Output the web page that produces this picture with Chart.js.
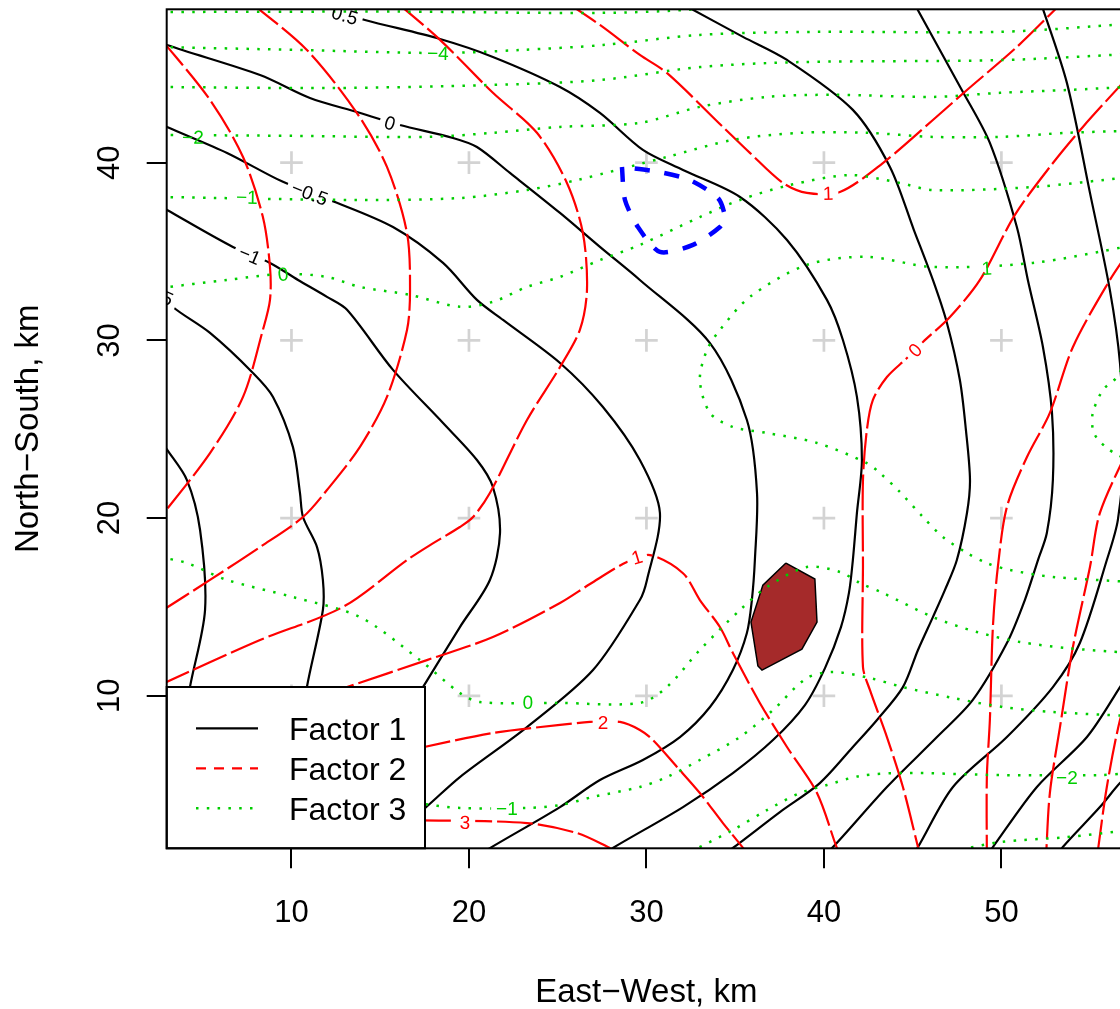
<!DOCTYPE html>
<html>
<head>
<meta charset="utf-8">
<style>
  html, body { margin: 0; padding: 0; overflow: hidden; background: #fff; }
  #wrap { position: relative; width: 1126px; height: 1009px; }
</style>
<script src="https://cdn.jsdelivr.net/npm/chart.js@4.4.1/dist/chart.umd.min.js"></script>
</head>
<body>
<div id="wrap"><canvas id="contours"></canvas></div>
<script>
// axis ranges, km
const xRange = [2.97, 57.02];
const yRange = [1.42, 48.63];
const xTicks = [10, 20, 30, 40, 50];
const yTicks = [10, 20, 30, 40];
const xTitle = 'East\u2212West, km';
const yTitle = 'North\u2212South, km';

// Factor 1 contours (solid black), [east-west, north-south]
const f1_m2 = [[2.59,24.40],[2.99,23.85],[4.11,22.14],[4.85,19.33],[5.13,14.82],[4.28,10.49],[4.00,8.60]];
const f1_m15 = [[1.46,33.12],[2.99,32.45],[3.32,31.88],[5.41,30.42],[7.83,28.17],[8.96,26.82],[10.08,24.01],[10.48,21.41],[10.65,20.06],[11.44,18.37],[11.77,16.52],[11.77,14.83],[10.87,10.50],[10.65,8.64]];
const f1_m1 = [[2.20,37.80],[2.99,37.34],[6.70,35.26],[8.79,34.36],[10.37,33.40],[12.00,32.45],[13.13,31.72],[15.72,28.34],[18.54,25.35],[20.45,23.27],[21.35,21.75],[21.75,19.16],[21.18,16.52],[19.49,13.87],[17.41,10.49],[16.96,9.76]];
const f1_m05 = [[2.20,42.40],[2.99,42.01],[6.37,40.55],[9.52,38.92],[12.17,37.90],[15.72,36.38],[18.54,34.36],[20.45,32.28],[21.92,31.15],[25.13,28.73],[27.55,26.25],[29.63,23.27],[30.76,20.29],[30.03,16.52],[29.63,15.39],[26.99,11.45],[23.27,8.24],[19.49,5.43],[17.52,3.68],[16.96,3.29]];
const f1_0 = [[2.20,47.00],[2.99,46.62],[8.23,44.93],[11.04,43.64],[13.69,42.85],[16.11,42.12],[19.10,41.39],[20.45,40.88],[22.31,39.42],[25.13,37.17],[27.38,35.26],[29.63,33.40],[33.58,29.85],[35.66,25.52],[36.23,21.41],[36.11,17.64],[35.94,15.39],[35.66,13.53],[34.87,11.45],[33.58,9.37],[31.89,7.68],[29.80,6.39],[27.38,5.26],[25.13,3.74],[21.18,1.43],[20.34,0.87]];
const f1_05 = [[11.49,48.82],[14.14,48.03],[18.37,46.96],[21.35,45.95],[25.13,44.26],[27.38,42.80],[29.80,40.72],[32.06,39.59],[35.27,38.07],[37.92,35.65],[40.17,32.28],[41.07,30.02],[41.86,26.82],[42.14,23.27],[41.86,20.29],[41.63,17.64],[41.41,15.79],[40.96,13.87],[40.06,11.56],[38.93,9.48],[37.13,7.51],[34.87,5.65],[32.06,3.74],[28.11,1.44],[27.27,0.87]];
const f1_1 = [[32.11,48.88],[35.44,47.08],[37.92,45.78],[41.63,42.97],[43.72,39.76],[45.07,36.21],[46.14,33.40],[46.93,30.98],[47.66,27.77],[48.00,24.96],[48.23,22.14],[48.06,20.29],[47.49,17.64],[46.82,15.96],[46.14,14.43],[45.30,12.58],[44.45,10.49],[42.99,8.64],[41.63,7.12],[39.77,5.09],[37.52,3.46],[34.87,1.44],[34.03,0.87]];
const f1_15 = [[45.07,48.99],[47.77,44.09],[49.35,41.11],[50.87,36.38],[51.49,33.40],[52.34,29.63],[52.85,25.92],[52.90,22.14],[52.56,19.16],[52.06,17.64],[51.32,15.39],[50.31,12.97],[48.39,9.77],[46.37,7.68],[43.55,4.87],[40.51,1.49],[39.77,0.87]];
const f1_2 = [[52.17,49.16],[53.69,44.49],[54.99,38.30],[56.11,32.84],[56.68,28.73],[56.90,23.83],[56.56,19.89],[55.94,17.64],[54.42,12.97],[52.90,10.49],[50.31,7.68],[47.27,4.87],[45.30,1.49],[44.85,0.87]];
const f1_25 = [[57.24,11.45],[56.68,10.49],[54.82,7.68],[52.00,4.87],[49.52,1.49],[49.07,0.87]];
const f1_3 = [[57.24,5.54],[56.68,5.09],[55.55,3.74],[53.46,1.49],[53.07,0.87]];
const f1_35 = [[57.24,1.99],[56.23,0.87]];

// Factor 2 contours (dashed red)
const f2_a = [[2.59,47.03],[5.41,43.53],[7.27,40.32],[8.39,36.94],[8.79,34.13],[8.79,32.28],[8.39,30.59],[7.27,26.82],[5.41,23.66],[2.59,20.00]];
const f2_b = [[7.66,49.05],[10.87,46.34],[13.69,42.79],[15.38,39.76],[16.51,36.04],[16.68,32.84],[16.51,30.59],[15.38,26.82],[13.86,24.01],[12.00,21.58],[10.65,20.06],[8.23,18.37],[5.41,16.52],[2.59,14.72]];
const f2_c = [[15.89,49.05],[18.37,46.91],[21.35,43.93],[23.83,41.68],[25.52,38.86],[26.42,36.04],[26.65,32.84],[26.25,30.59],[25.13,28.50],[23.27,25.52],[21.18,21.41],[20.23,20.06],[19.49,19.50],[17.63,18.37],[16.51,17.64],[12.90,15.00],[8.23,13.14],[2.59,10.61]];
const f2_1top = [[25.46,49.05],[27.38,47.75],[29.63,46.06],[31.15,45.05],[34.31,42.01],[35.83,40.55],[37.69,38.86],[39.04,38.30],[40.90,38.35],[43.32,39.98],[46.14,42.40],[48.06,44.09],[50.87,46.51],[53.46,49.05]];
const f2_1mid = [[11.61,9.93],[13.13,10.49],[17.63,12.01],[21.35,13.31],[25.13,15.22],[26.82,16.29],[28.90,17.53],[30.20,17.92],[32.06,16.90],[33.01,15.39],[34.14,13.87],[34.87,12.41],[36.39,9.60],[37.92,7.12],[39.61,4.53],[40.73,1.44],[41.01,0.87]];
const f2_2 = [[16.96,7.01],[21.35,7.91],[25.13,8.36],[26.82,8.53],[28.51,8.53],[29.63,8.08],[30.37,7.51],[31.72,6.00],[33.01,4.53],[34.31,2.84],[35.44,1.44],[35.83,0.87]];
const f2_3 = [[16.96,3.01],[23.27,2.84],[26.08,2.28],[27.94,1.44],[29.07,0.87]];
const f2_0 = [[57.24,44.93],[54.59,42.01],[52.73,39.76],[50.76,37.06],[48.79,33.40],[47.10,31.32],[45.58,29.91],[44.68,29.01],[43.55,27.94],[42.76,26.65],[42.42,24.96],[42.20,22.14],[42.20,17.25],[42.20,11.62],[42.59,10.33],[43.55,7.68],[44.45,4.87],[45.30,1.49],[45.46,0.87]];
const f2_r1 = [[57.24,35.09],[56.11,33.40],[54.03,29.63],[52.73,25.92],[51.44,23.44],[50.31,20.63],[49.80,17.25],[49.52,13.87],[49.35,8.64],[49.18,5.43],[49.18,0.87]];
const f2_r2 = [[57.24,24.11],[55.55,20.29],[54.99,17.25],[54.03,12.75],[53.30,8.24],[52.73,4.53],[52.51,0.87]];
const f2_r3 = [[57.13,9.77],[56.68,8.64],[55.94,4.87],[55.38,0.87]];

// Factor 3 contours (dotted green)
const f3_m5 = [[2.59,48.48],[16.10,48.50],[27.38,48.43],[33.01,48.65],[36.00,49.10]];
const f3_m4 = [[2.59,46.51],[10.48,46.34],[18.37,46.17],[22.87,46.34],[27.55,46.62],[33.01,47.19],[39.61,47.36],[49.92,47.36],[57.24,47.81]];
const f3_m3 = [[2.59,44.26],[12.17,44.20],[21.18,44.37],[27.38,44.65],[33.01,45.38],[38.65,45.66],[49.92,45.77],[57.24,46.11]];
const f3_m2 = [[2.59,41.56],[10.08,41.51],[17.63,41.45],[21.35,41.68],[25.13,42.01],[29.63,42.24],[33.01,43.14],[36.79,43.70],[40.51,43.82],[46.14,43.70],[49.92,43.93],[53.69,44.09],[57.24,44.26]];
const f3_m1 = [[2.59,38.07],[13.86,37.90],[19.49,38.01],[23.27,38.46],[26.08,39.02],[31.15,40.32],[34.87,41.28],[38.65,41.68],[42.42,41.68],[46.14,41.45],[49.92,41.45],[53.69,41.68],[57.24,41.79]];
const f3_0top = [[2.59,32.95],[6.37,33.40],[9.52,33.74],[12.00,33.57],[13.86,33.01],[16.68,32.56],[19.49,31.89],[21.35,32.17],[23.27,33.01],[25.13,33.57],[27.38,34.52],[29.63,35.37],[33.01,36.94],[35.27,37.90],[38.08,38.74],[41.46,39.30],[44.28,38.86],[46.14,38.46],[51.77,38.63],[57.24,39.19]];
const f3_1 = [[57.24,35.31],[51.77,34.36],[46.14,34.13],[42.42,34.70],[39.04,34.25],[35.83,32.45],[34.14,30.59],[33.41,29.46],[33.01,27.77],[33.58,25.92],[34.87,25.13],[36.79,24.79],[39.61,24.23],[42.42,23.10],[43.15,22.54],[44.28,21.47],[45.58,20.06],[46.70,18.94],[48.06,18.04],[49.18,17.47],[50.48,17.08],[52.90,16.69],[57.24,16.41]];
const f3_2 = [[57.24,29.46],[56.51,27.94],[55.72,27.21],[55.15,25.92],[55.15,24.96],[55.38,24.51],[55.94,23.95],[56.56,23.55],[57.24,23.27]];
const f3_0low = [[2.59,17.81],[4.11,17.47],[6.37,16.52],[10.08,15.56],[13.86,14.43],[17.24,12.01],[19.49,10.16],[20.62,9.65],[25.13,9.60],[29.63,9.60],[31.15,10.49],[33.01,12.58],[35.27,14.83],[36.79,16.12],[39.04,17.25],[40.90,16.97],[42.03,16.35],[43.32,15.79],[46.14,14.43],[48.62,13.59],[51.04,13.03],[53.69,12.69],[57.24,12.41]];
const f3_m1low = [[16.96,3.97],[19.49,3.69],[23.27,3.69],[25.13,3.85],[26.99,4.31],[29.63,4.87],[31.15,5.43],[33.01,6.39],[35.27,7.68],[37.13,9.20],[39.04,11.00],[40.51,11.34],[42.59,11.00],[44.45,10.49],[47.27,9.88],[50.08,9.37],[52.90,9.09],[57.24,8.86]];
const f3_m2low = [[32.45,1.21],[34.87,2.45],[36.79,3.57],[38.65,4.53],[40.17,4.98],[42.03,5.49],[44.45,5.66],[49.92,5.54],[55.55,5.54],[57.24,5.66]];
const f3_m3low = [[47.10,1.21],[49.92,1.77],[53.69,2.05],[57.24,2.45]];

// contour labels: text, east-west, north-south
const f1Labels = [['0.5',13.01,48.31],['0',15.55,42.24],['\u22120.5',11.04,38.29],['\u22121',7.66,34.81],['\u22121.5',2.33,32.68]];
const f2Labels = [['1',40.23,38.29],['0',45.13,29.46],['1',29.46,17.81],['2',27.55,8.53],['3',19.77,2.90]];
const f3Labels = [['\u22124',18.25,46.17],['\u22122',4.45,41.45],['\u22121',7.49,38.07],['0',9.52,33.74],['1',49.18,34.07],['0',23.32,9.65],['\u22121',22.14,3.69],['\u22122',53.69,5.43]];

// extra marks
const blueLoop = [[28.62,39.76],[28.79,37.90],[29.52,36.38],[30.76,34.98],[32.62,35.37],[34.14,36.38],[34.42,36.94],[34.03,38.01],[32.45,39.02],[30.76,39.47],[28.62,39.76]];
const brownPatch = [[37.86,17.47],[39.49,16.57],[39.61,14.15],[38.76,12.63],[36.51,11.45],[36.28,11.68],[35.89,14.15],[36.56,16.23],[37.86,17.47]];
const siteX = [10, 20, 30, 40, 50];
const siteY = [10, 20, 30, 40];

const legendNames = ['Factor 1', 'Factor 2', 'Factor 3'];

const factorLines = {
  1: [f1_m2, f1_m15, f1_m1, f1_m05, f1_0, f1_05, f1_1, f1_15, f1_2, f1_25, f1_3, f1_35],
  2: [f2_a, f2_b, f2_c, f2_1top, f2_1mid, f2_2, f2_3, f2_0, f2_r1, f2_r2, f2_r3],
  3: [f3_m5, f3_m4, f3_m3, f3_m2, f3_m1, f3_0top, f3_1, f3_2, f3_0low, f3_m1low, f3_m2low, f3_m3low]
};
const factorLabels = { 1: f1Labels, 2: f2Labels, 3: f3Labels };

const colours = { 1: '#000000', 2: '#ff0000', 3: '#00cd00' };
const widths = { 1: 2.2, 2: 2.2, 3: 2.5 };
const dashes = { 1: [], 2: [36, 5], 3: [2.5, 8.3] };
const legendDashes = { 1: [], 2: [10, 8], 3: [2.5, 8.3] };
const FONT = '"Liberation Sans", Arial, Helvetica, sans-serif';

const toXY = pts => pts.map(([x, y]) => ({ x, y }));

const datasets = [];
[1, 2, 3].forEach(f => {
  factorLines[f].forEach(pts => {
    datasets.push({
      factor: f,
      data: toXY(pts),
      showLine: true,
      pointRadius: 0,
      tension: 0.3,
      borderColor: colours[f],
      borderWidth: widths[f],
      borderDash: dashes[f],
      order: 5 - f
    });
  });
});

const sites = [];
siteY.forEach(y => siteX.forEach(x => sites.push({ x, y })));
datasets.push({
  data: sites,
  pointStyle: 'cross',
  pointRadius: 11.3,
  pointBorderWidth: 2.7,
  pointBorderColor: '#d3d3d3',
  showLine: false,
  order: 9
});
datasets.push({
  data: toXY(brownPatch),
  showLine: true,
  pointRadius: 0,
  tension: 0,
  fill: 'shape',
  backgroundColor: '#a52a2a',
  borderColor: '#000000',
  borderWidth: 1.5,
  order: 8
});
datasets.push({
  data: toXY(blueLoop),
  showLine: true,
  pointRadius: 0,
  tension: 0.25,
  borderColor: '#0000ff',
  borderWidth: 4.5,
  borderDash: [15, 15],
  order: 1
});

function segDist(px, py, p, q) {
  const dx = q.x - p.x, dy = q.y - p.y;
  const len = dx * dx + dy * dy;
  let t = len ? ((px - p.x) * dx + (py - p.y) * dy) / len : 0;
  t = Math.max(0, Math.min(1, t));
  const cx = p.x + t * dx, cy = p.y + t * dy;
  return Math.hypot(px - cx, py - cy);
}

const LABEL_FONT = '19px ' + FONT;

// breaks each contour where its label sits, then writes the label
const contourLabels = {
  id: 'contourLabels',
  beforeDatasetsDraw(chart) {
    const { ctx, scales: { x, y } } = chart;
    ctx.save();
    ctx.font = LABEL_FONT;
    const boxes = [];
    [1, 2, 3].forEach(f => {
      factorLabels[f].forEach(([text, vx, vy]) => {
        const px = x.getPixelForValue(vx);
        const py = y.getPixelForValue(vy);
        let best = null;
        chart.data.datasets.forEach((ds, i) => {
          if (ds.factor !== f) return;
          const pts = chart.getDatasetMeta(i).data;
          for (let k = 1; k < pts.length; k++) {
            const d = segDist(px, py, pts[k - 1], pts[k]);
            if (!best || d < best.d) {
              best = { d, i, a: Math.atan2(pts[k].y - pts[k - 1].y, pts[k].x - pts[k - 1].x) };
            }
          }
        });
        let a = best.a;
        if (a > Math.PI / 2) a -= Math.PI;
        if (a <= -Math.PI / 2) a += Math.PI;
        boxes.push({ px, py, a, w: ctx.measureText(text).width + 10, h: 16, ds: best.i, text, colour: colours[f] });
      });
    });
    ctx.restore();
    chart.$labelBoxes = boxes;
  },
  beforeDatasetDraw(chart, args) {
    const ctx = chart.ctx;
    ctx.save();
    const boxes = (chart.$labelBoxes || []).filter(b => b.ds === args.index);
    if (!boxes.length) return;
    ctx.beginPath();
    ctx.rect(0, 0, chart.width, chart.height);
    boxes.forEach(b => {
      const c = Math.cos(b.a), s = Math.sin(b.a);
      const corners = [[-b.w / 2, -b.h / 2], [b.w / 2, -b.h / 2], [b.w / 2, b.h / 2], [-b.w / 2, b.h / 2]];
      corners.forEach(([u, v], k) => {
        const X = b.px + u * c - v * s, Y = b.py + u * s + v * c;
        if (k === 0) ctx.moveTo(X, Y); else ctx.lineTo(X, Y);
      });
      ctx.closePath();
    });
    ctx.clip('evenodd');
  },
  afterDatasetDraw(chart) {
    chart.ctx.restore();
  },
  afterDatasetsDraw(chart) {
    const { ctx, chartArea: a } = chart;
    ctx.save();
    ctx.beginPath();
    ctx.rect(a.left, a.top, a.right - a.left, a.bottom - a.top);
    ctx.clip();
    ctx.font = LABEL_FONT;
    ctx.textAlign = 'center';
    ctx.textBaseline = 'alphabetic';
    (chart.$labelBoxes || []).forEach(b => {
      ctx.save();
      ctx.translate(b.px, b.py);
      ctx.rotate(b.a);
      ctx.fillStyle = b.colour;
      ctx.fillText(b.text, 0, 6.8);
      ctx.restore();
    });
    ctx.restore();
  }
};

// tick labels, titles, legend box and plot frame
const frameAndText = {
  id: 'frameAndText',
  afterDraw(chart) {
    const { ctx, chartArea: a, scales: { x, y } } = chart;
    ctx.save();
    ctx.fillStyle = '#000';
    ctx.textAlign = 'center';
    ctx.textBaseline = 'alphabetic';
    ctx.font = '31px ' + FONT;
    xTicks.forEach(v => ctx.fillText(String(v), x.getPixelForValue(v), a.bottom + 73.4));
    yTicks.forEach(v => {
      ctx.save();
      ctx.translate(a.left - 48.2, y.getPixelForValue(v));
      ctx.rotate(-Math.PI / 2);
      ctx.fillText(String(v), 0, 0);
      ctx.restore();
    });
    ctx.font = '33px ' + FONT;
    ctx.fillText(xTitle, (a.left + a.right) / 2, a.bottom + 153.7);
    ctx.save();
    ctx.translate(a.left - 128.7, (a.top + a.bottom) / 2);
    ctx.rotate(-Math.PI / 2);
    ctx.fillText(yTitle, 0, 0);
    ctx.restore();

    // legend, bottom left
    const lx = a.left, lw = 258.3, lh = 161.3, ly = a.bottom - lh;
    ctx.fillStyle = '#fff';
    ctx.fillRect(lx, ly, lw, lh);
    ctx.strokeStyle = '#000';
    ctx.lineWidth = 2;
    ctx.strokeRect(lx, ly, lw, lh);
    ctx.font = '32px ' + FONT;
    ctx.textAlign = 'left';
    legendNames.forEach((name, i) => {
      const f = i + 1;
      const rowY = a.bottom - 120 + i * 40;
      ctx.save();
      ctx.strokeStyle = colours[f];
      ctx.lineWidth = widths[f];
      ctx.setLineDash(legendDashes[f]);
      ctx.beginPath();
      ctx.moveTo(lx + 29.3, rowY);
      ctx.lineTo(lx + 91.3, rowY);
      ctx.stroke();
      ctx.restore();
      ctx.fillStyle = '#000';
      ctx.fillText(name, lx + 122.3, rowY + 11.7);
    });

    ctx.strokeStyle = '#000';
    ctx.lineWidth = 2;
    ctx.setLineDash([]);
    ctx.strokeRect(a.left, a.top, a.right - a.left, a.bottom - a.top);
    ctx.restore();
  }
};

const axisBase = {
  type: 'linear',
  ticks: { display: false, stepSize: 10, includeBounds: false },
  grid: { drawOnChartArea: false, drawTicks: true, tickLength: 20, color: '#000', lineWidth: 2 },
  border: { display: false }
};

new Chart(document.getElementById('contours'), {
  type: 'scatter',
  data: { datasets },
  options: {
    responsive: true,
    maintainAspectRatio: false,
    animation: false,
    events: [],
    layout: { autoPadding: false, padding: { top: 9.3, left: 0, right: 0, bottom: 0 } },
    plugins: { legend: { display: false }, tooltip: { enabled: false } },
    scales: {
      x: Object.assign({}, axisBase, {
        min: xRange[0], max: xRange[1],
        afterFit(scale) { scale.height = 160.7; }
      }),
      y: Object.assign({}, axisBase, {
        min: yRange[0], max: yRange[1],
        afterFit(scale) { scale.width = 166.7; }
      })
    }
  },
  plugins: [contourLabels, frameAndText]
});
</script>
</body>
</html>
